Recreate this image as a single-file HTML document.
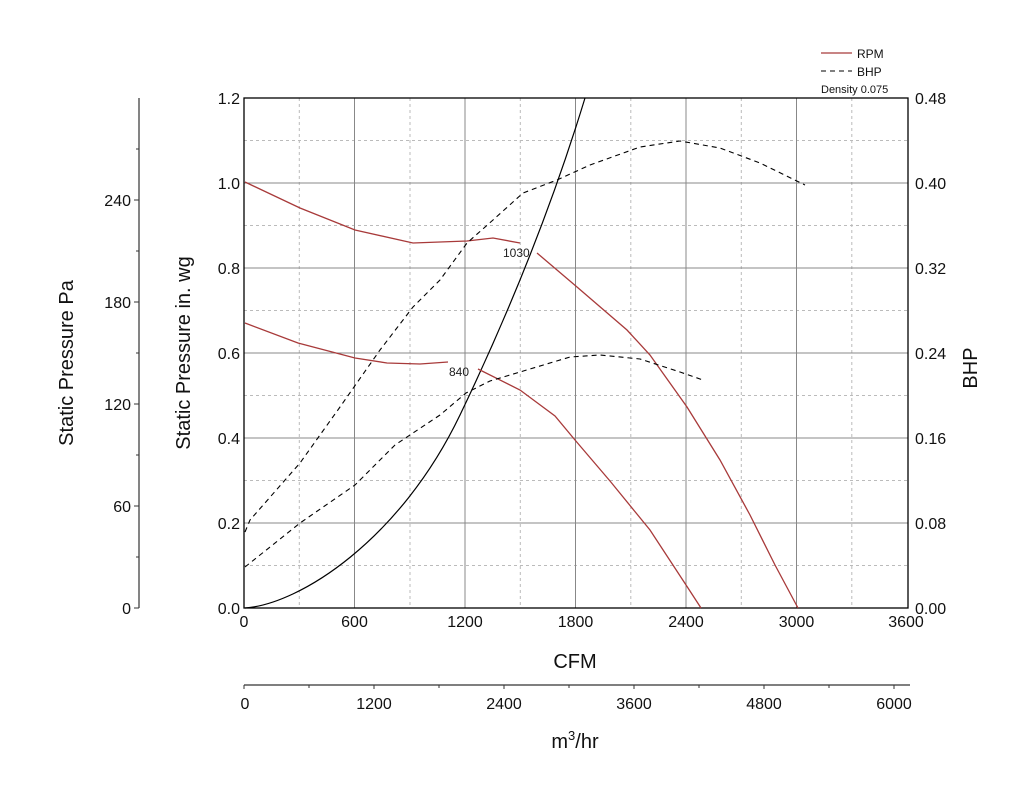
<!DOCTYPE html>
<html><head><meta charset="utf-8"><style>
html,body{margin:0;padding:0;background:#fff;}
svg{display:block;font-family:"Liberation Sans",Arial,sans-serif;}
</style></head><body>
<svg width="1024" height="788" viewBox="0 0 1024 788" xmlns="http://www.w3.org/2000/svg">
<rect width="1024" height="788" fill="#fff"/>
<!-- minor grid -->
<g stroke="#bbb" stroke-width="1" stroke-dasharray="3,3">
<line x1="299.3" y1="98" x2="299.3" y2="608"/><line x1="410" y1="98" x2="410" y2="608"/>
<line x1="520.3" y1="98" x2="520.3" y2="608"/><line x1="630.8" y1="98" x2="630.8" y2="608"/>
<line x1="741.3" y1="98" x2="741.3" y2="608"/><line x1="851.8" y1="98" x2="851.8" y2="608"/>
<line x1="244" y1="140.5" x2="908" y2="140.5"/><line x1="244" y1="225.5" x2="908" y2="225.5"/>
<line x1="244" y1="310.5" x2="908" y2="310.5"/><line x1="244" y1="395.5" x2="908" y2="395.5"/>
<line x1="244" y1="480.5" x2="908" y2="480.5"/><line x1="244" y1="565.5" x2="908" y2="565.5"/>
</g>
<!-- major grid -->
<g stroke="#888" stroke-width="1">
<line x1="354.5" y1="98" x2="354.5" y2="608"/><line x1="465" y1="98" x2="465" y2="608"/>
<line x1="575.5" y1="98" x2="575.5" y2="608"/><line x1="686" y1="98" x2="686" y2="608"/>
<line x1="796.5" y1="98" x2="796.5" y2="608"/>
<line x1="244" y1="183" x2="908" y2="183"/><line x1="244" y1="268" x2="908" y2="268"/>
<line x1="244" y1="353" x2="908" y2="353"/><line x1="244" y1="438" x2="908" y2="438"/>
<line x1="244" y1="523" x2="908" y2="523"/>
</g>
<rect x="244" y="98" width="664" height="510" fill="none" stroke="#000" stroke-width="1.3"/>
<!-- system curve -->
<path d="M245,608 C300,604 400,540 460,415 C520,290 560,180 585,98" fill="none" stroke="#000" stroke-width="1.2"/>
<!-- RPM curves -->
<g fill="none" stroke="#a83a3a" stroke-width="1.3">
<polyline points="245,182 300,208 355,230 413,243 467,241 493,238 520,243"/>
<polyline points="537,253 577,287 627,330 650,355 687,407 720,460 750,515 775,565 798,608"/>
<polyline points="245,323 298,343 355,358 387,363 420,364 448,362"/>
<polyline points="478,369 520,390 555,416 575,440 610,481 650,530 688,588 701,608"/>
</g>
<!-- BHP curves -->
<g fill="none" stroke="#000" stroke-width="1.1" stroke-dasharray="5,4">
<polyline points="245,532 250,520 300,463 340,407 380,350 413,307 440,280 467,243 493,220 523,193 557,180 590,165 640,147 680,141 720,148 760,163 805,185"/>
<polyline points="245,567 300,523 355,485 395,445 440,415 466,393 490,381 520,372 570,357 600,355 640,359 680,372 703,380"/>
</g>
<text x="503" y="257" font-size="12" fill="#222">1030</text>
<text x="449" y="376" font-size="12" fill="#222">840</text>
<!-- left in.wg ticks -->
<g font-size="16" fill="#111" text-anchor="end">
<text x="240" y="104">1.2</text><text x="240" y="189">1.0</text><text x="240" y="274">0.8</text>
<text x="240" y="359">0.6</text><text x="240" y="444">0.4</text><text x="240" y="529">0.2</text>
<text x="240" y="614">0.0</text>
</g>
<!-- right BHP -->
<g font-size="16" fill="#111">
<text x="915" y="104">0.48</text><text x="915" y="189">0.40</text><text x="915" y="274">0.32</text>
<text x="915" y="359">0.24</text><text x="915" y="444">0.16</text><text x="915" y="529">0.08</text>
<text x="915" y="614">0.00</text>
</g>
<!-- bottom CFM -->
<g font-size="16" fill="#111" text-anchor="middle">
<text x="244" y="627">0</text><text x="354.5" y="627">600</text><text x="465" y="627">1200</text>
<text x="575.5" y="627">1800</text><text x="686" y="627">2400</text><text x="796.5" y="627">3000</text>
<text x="906" y="627">3600</text>
</g>
<text x="575" y="668" font-size="20" text-anchor="middle" fill="#111">CFM</text>
<!-- m3/hr axis -->
<line x1="244" y1="685" x2="910" y2="685" stroke="#333" stroke-width="1.2"/>
<g stroke="#333" stroke-width="1">
<line x1="244" y1="685" x2="244" y2="689"/><line x1="309" y1="685" x2="309" y2="688"/>
<line x1="374" y1="685" x2="374" y2="689"/><line x1="439" y1="685" x2="439" y2="688"/>
<line x1="504" y1="685" x2="504" y2="689"/><line x1="569" y1="685" x2="569" y2="688"/>
<line x1="634" y1="685" x2="634" y2="689"/><line x1="699" y1="685" x2="699" y2="688"/>
<line x1="764" y1="685" x2="764" y2="689"/><line x1="829" y1="685" x2="829" y2="688"/>
<line x1="894" y1="685" x2="894" y2="689"/>
</g>
<g font-size="16" fill="#111" text-anchor="middle">
<text x="245" y="709">0</text><text x="374" y="709">1200</text><text x="504" y="709">2400</text>
<text x="634" y="709">3600</text><text x="764" y="709">4800</text><text x="894" y="709">6000</text>
</g>
<text x="575" y="748" font-size="20" text-anchor="middle" fill="#111">m<tspan font-size="13" dy="-8">3</tspan><tspan dy="8">/hr</tspan></text>
<!-- Pa axis -->
<line x1="139" y1="98" x2="139" y2="608" stroke="#333" stroke-width="1.2"/>
<g stroke="#333" stroke-width="1">
<line x1="134" y1="608" x2="139" y2="608"/><line x1="136" y1="557" x2="139" y2="557"/>
<line x1="134" y1="506" x2="139" y2="506"/><line x1="136" y1="455" x2="139" y2="455"/>
<line x1="134" y1="404" x2="139" y2="404"/><line x1="136" y1="353" x2="139" y2="353"/>
<line x1="134" y1="302" x2="139" y2="302"/><line x1="136" y1="251" x2="139" y2="251"/>
<line x1="134" y1="200" x2="139" y2="200"/><line x1="136" y1="149" x2="139" y2="149"/>
</g>
<g font-size="16" fill="#111" text-anchor="end">
<text x="131" y="614">0</text><text x="131" y="512">60</text><text x="131" y="410">120</text>
<text x="131" y="308">180</text><text x="131" y="206">240</text>
</g>
<text transform="translate(73,363) rotate(-90)" font-size="20" text-anchor="middle" fill="#111">Static Pressure Pa</text>
<text transform="translate(190,353) rotate(-90)" font-size="20" text-anchor="middle" fill="#111">Static Pressure in. wg</text>
<text transform="translate(977,368) rotate(-90)" font-size="20" text-anchor="middle" fill="#111">BHP</text>
<!-- legend -->
<line x1="821" y1="53" x2="852" y2="53" stroke="#a83a3a" stroke-width="1.2"/>
<text x="857" y="58" font-size="12" fill="#111">RPM</text>
<line x1="821" y1="71" x2="852" y2="71" stroke="#000" stroke-width="1.1" stroke-dasharray="5,4"/>
<text x="857" y="76" font-size="12" fill="#111">BHP</text>
<text x="821" y="93" font-size="11" fill="#111">Density 0.075</text>
</svg>
</body></html>
